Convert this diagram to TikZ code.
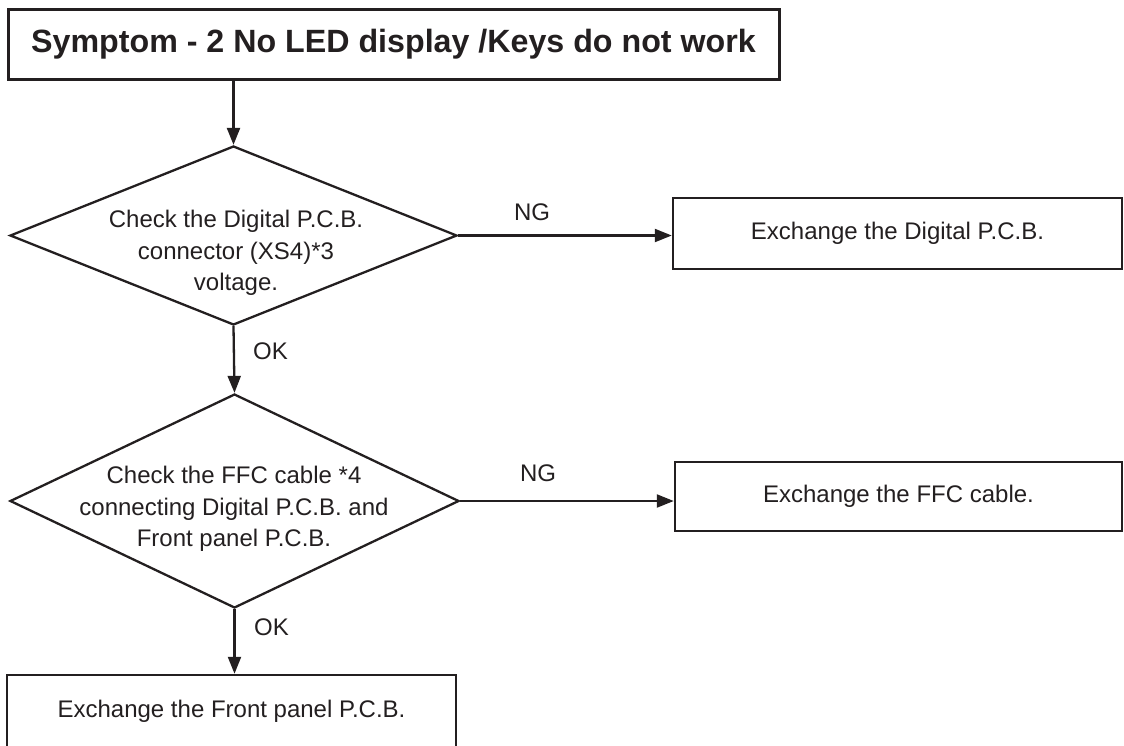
\documentclass[tikz,border=0pt]{standalone}
\usepackage{fontspec}
\setmainfont{Liberation Sans}
\usetikzlibrary{shapes.geometric,arrows.meta}
\definecolor{ink}{HTML}{231F20}
\begin{document}
\begin{tikzpicture}[x=1pt,y=-1pt,
  titlebox/.style={draw=ink, line width=3pt, rectangle, inner sep=0pt, text=ink, font=\fontsize{32.2}{38}\selectfont\bfseries},
  actbox/.style={draw=ink, line width=2.5pt, rectangle, inner sep=0pt, text=ink, font=\fontsize{24}{31}\selectfont},
  dia/.style={draw=ink, line width=2.3pt, diamond, inner sep=0pt},
  diatext/.style={align=center, text=ink, inner sep=0pt, font=\fontsize{24}{31.5}\selectfont},
  conn/.style={draw=ink, line width=2.3pt, -{Triangle[length=17pt,width=13pt]}},
  lbl/.style={text=ink, inner sep=0pt, font=\fontsize{24}{28}\selectfont}]
\useasboundingbox (0,0) rectangle (1124,745);
\clip (0,0) rectangle (1124,745);

\node[titlebox, minimum width=771pt, minimum height=70pt] (title) at (393.5,44) {Symptom - 2 No LED display /Keys do not work};

\node[dia, minimum width=447pt, minimum height=179pt] (d1) at (233.5,235.5) {};
\node[diatext] (d1t) at (236,253) {Check the Digital P.C.B.\\connector (XS4)*3\\voltage.};

\node[dia, minimum width=449pt, minimum height=214pt] (d2) at (234.5,501) {};
\node[diatext] (d2t) at (234,509) {Check the FFC cable *4\\connecting Digital P.C.B. and\\Front panel P.C.B.};

\node[actbox, minimum width=449pt, minimum height=71pt] (b1) at (897.5,233.5) {Exchange the Digital P.C.B.};
\node[actbox, minimum width=447pt, minimum height=69pt] (b2) at (898.5,496.5) {Exchange the FFC cable.};
\node[actbox, minimum width=449pt, minimum height=72pt] (b3) at (231.5,711) {Exchange the Front panel P.C.B.};

\draw[conn] (title.south -| d1.north) -- (d1.north);
\draw[conn] (d1.east) -- (b1.west |- d1.east);
\draw[conn] (d1.south) -- (d2.north);
\draw[conn] (d2.east) -- (b2.west |- d2.east);
\draw[conn] (d2.south) -- (b3.north -| d2.south);

\node[lbl] (ng1) at (532,212) {NG};
\node[lbl] (ng2) at (538,473) {NG};
\node[lbl, anchor=west] (ok1) at (253,351) {OK};
\node[lbl, anchor=west] (ok2) at (254,627) {OK};
\end{tikzpicture}
\end{document}
